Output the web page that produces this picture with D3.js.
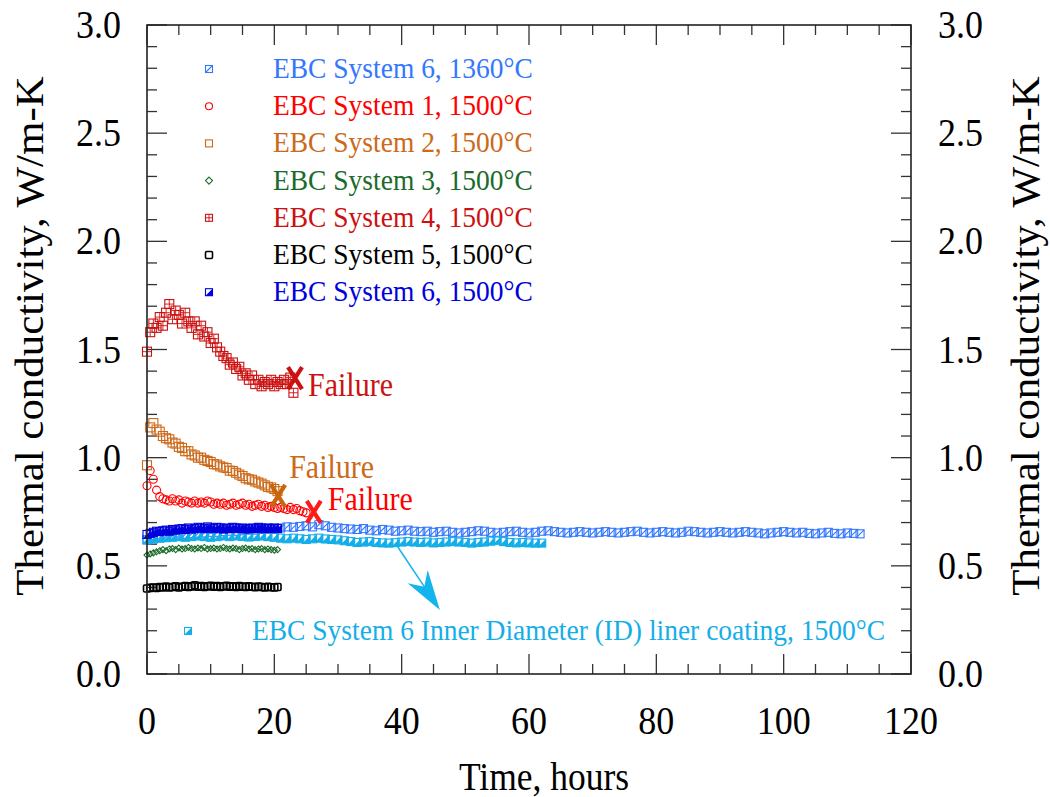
<!DOCTYPE html>
<html>
<head>
<meta charset="utf-8">
<script src="https://cdn.jsdelivr.net/npm/d3@7"></script>
<style>
body { margin: 0; background: #fff; }
svg { display: block; }
text { font-family: "Liberation Serif", "Times New Roman", serif; }
</style>
</head>
<body>
<script>
// axis ticks
var xTicks = [0, 20, 40, 60, 80, 100, 120];
var yTicks = [0.0, 0.5, 1.0, 1.5, 2.0, 2.5, 3.0];

// thermal conductivity readings (W/m-K)
// sampled every 1 h
var sys6_1360 = [0.62, 0.625, 0.63, 0.635, 0.64, 0.64, 0.645, 0.648, 0.65, 0.652,
  0.655, 0.655, 0.658, 0.66, 0.66, 0.662, 0.665, 0.665, 0.668, 0.67,
  0.672, 0.675, 0.68, 0.678, 0.682, 0.685, 0.68, 0.69, 0.685, 0.678,
  0.675, 0.672, 0.67, 0.668, 0.672, 0.665, 0.662, 0.668, 0.665, 0.66,
  0.662, 0.665, 0.66, 0.658, 0.66, 0.655, 0.658, 0.66, 0.655, 0.652,
  0.655, 0.658, 0.662, 0.66, 0.655, 0.652, 0.655, 0.658, 0.66, 0.655,
  0.652, 0.655, 0.66, 0.662, 0.658, 0.655, 0.652, 0.655, 0.658, 0.655,
  0.652, 0.655, 0.658, 0.655, 0.652, 0.655, 0.658, 0.66, 0.655, 0.652,
  0.655, 0.658, 0.655, 0.652, 0.655, 0.66, 0.658, 0.655, 0.652, 0.655,
  0.658, 0.655, 0.652, 0.655, 0.658, 0.655, 0.652, 0.648, 0.652, 0.655,
  0.658, 0.655, 0.652, 0.655, 0.65, 0.648, 0.652, 0.655, 0.65, 0.648,
  0.652, 0.65, 0.648];
// sampled every 1 h
var sys6_id = [0.62, 0.625, 0.628, 0.63, 0.632, 0.635, 0.632, 0.635, 0.638, 0.635,
  0.632, 0.635, 0.638, 0.635, 0.638, 0.636, 0.633, 0.636, 0.638, 0.635,
  0.632, 0.628, 0.625, 0.628, 0.625, 0.622, 0.625, 0.628, 0.624, 0.622,
  0.62, 0.616, 0.612, 0.608, 0.61, 0.612, 0.608, 0.606, 0.605, 0.607,
  0.61, 0.612, 0.61, 0.608, 0.61, 0.606, 0.608, 0.61, 0.612, 0.61,
  0.608, 0.605, 0.608, 0.61, 0.614, 0.618, 0.612, 0.608, 0.606, 0.608,
  0.606, 0.605, 0.605];
// sampled every 0.5 h
var sys1 = [0.87, 0.94, 0.90, 0.85, 0.82, 0.81, 0.805, 0.80, 0.81, 0.80,
  0.805, 0.79, 0.80, 0.795, 0.79, 0.80, 0.79, 0.795, 0.79, 0.80,
  0.795, 0.785, 0.79, 0.785, 0.79, 0.78, 0.785, 0.79, 0.78, 0.785,
  0.79, 0.78, 0.785, 0.775, 0.78, 0.785, 0.775, 0.78, 0.77, 0.775,
  0.77, 0.765, 0.77, 0.765, 0.76, 0.77, 0.76, 0.765, 0.755, 0.75, 0.745];
var sys2 = [0.965, 1.14, 1.16, 1.13, 1.12, 1.10, 1.09, 1.085, 1.07, 1.065,
  1.05, 1.045, 1.03, 1.03, 1.015, 1.01, 1.0, 1.0, 0.99, 0.985,
  0.98, 0.97, 0.968, 0.96, 0.955, 0.952, 0.94, 0.938, 0.93, 0.922,
  0.915, 0.905, 0.90, 0.898, 0.89, 0.885, 0.88, 0.872, 0.865, 0.862,
  0.855, 0.845];
var sys3 = [0.55, 0.555, 0.56, 0.565, 0.57, 0.575, 0.57, 0.578, 0.58, 0.575,
  0.582, 0.578, 0.58, 0.585, 0.58, 0.578, 0.582, 0.58, 0.585, 0.578,
  0.58, 0.582, 0.578, 0.58, 0.585, 0.58, 0.578, 0.582, 0.58, 0.575,
  0.58, 0.582, 0.578, 0.58, 0.575, 0.578, 0.58, 0.575, 0.578, 0.575,
  0.572, 0.575];
var sys4 = [1.49, 1.58, 1.62, 1.60, 1.65, 1.61, 1.67, 1.71, 1.64, 1.68,
  1.66, 1.62, 1.67, 1.63, 1.60, 1.63, 1.57, 1.61, 1.56, 1.58,
  1.53, 1.55, 1.51, 1.49, 1.47, 1.46, 1.43, 1.44, 1.41, 1.42,
  1.38, 1.39, 1.36, 1.38, 1.34, 1.36, 1.33, 1.35, 1.34, 1.36,
  1.33, 1.35, 1.34, 1.36, 1.34, 1.37, 1.30];
var sys5 = [0.395, 0.398, 0.40, 0.398, 0.402, 0.40, 0.404, 0.40, 0.402, 0.405,
  0.40, 0.403, 0.406, 0.402, 0.405, 0.41, 0.404, 0.406, 0.402, 0.405,
  0.408, 0.404, 0.406, 0.402, 0.405, 0.408, 0.403, 0.405, 0.402, 0.406,
  0.404, 0.402, 0.405, 0.403, 0.401, 0.404, 0.402, 0.40, 0.403, 0.401,
  0.40, 0.402];
var sys6_1500 = [0.645, 0.65, 0.655, 0.66, 0.658, 0.662, 0.665, 0.66, 0.668, 0.665,
  0.67, 0.672, 0.668, 0.675, 0.67, 0.672, 0.678, 0.675, 0.672, 0.68,
  0.675, 0.672, 0.678, 0.675, 0.67, 0.675, 0.672, 0.678, 0.675, 0.672,
  0.675, 0.67, 0.672, 0.675, 0.672, 0.678, 0.675, 0.672, 0.675, 0.672,
  0.675, 0.672];

// failure points [hours, W/m-K]
var failSys4 = [23.25, 1.368];
var failSys2 = [20.6, 0.823];
var failSys1 = [26.2, 0.749];
// arrow to the ID liner label [hours, W/m-K]
var arrowFrom = [39.4, 0.587];
var arrowTo = [46.0, 0.296];

var series = [
  {key: "s6a", label: "EBC System 6, 1360°C", vals: sys6_1360, dt: 1, color: "#3377ff", marker: "slash", size: 8},
  {key: "s6id", label: "EBC System 6 Inner Diameter (ID) liner coating, 1500°C", vals: sys6_id, dt: 1, color: "#14aee8", marker: "half", size: 8},
  {key: "s1", label: "EBC System 1, 1500°C", vals: sys1, dt: 0.5, color: "#ff0000", marker: "circle", size: 8},
  {key: "s2", label: "EBC System 2, 1500°C", vals: sys2, dt: 0.5, color: "#cc6a1a", marker: "square", size: 9},
  {key: "s3", label: "EBC System 3, 1500°C", vals: sys3, dt: 0.5, color: "#1a6b2a", marker: "diamond", size: 6},
  {key: "s4", label: "EBC System 4, 1500°C", vals: sys4, dt: 0.5, color: "#cc1111", marker: "cross", size: 9},
  {key: "s5", label: "EBC System 5, 1500°C", vals: sys5, dt: 0.5, color: "#000000", marker: "thick", size: 7},
  {key: "s6b", label: "EBC System 6, 1500°C", vals: sys6_1500, dt: 0.5, color: "#0000dd", marker: "half", size: 8}
];
var legendOrder = ["s6a", "s1", "s2", "s3", "s4", "s5", "s6b"];

var W = 1050, H = 797;
var pLeft = 147, pTop = 25, pRight = 911, pBottom = 674;
var STRETCH = 1.1; // the glyphs in the figure are a bit taller than wide

var x = d3.scaleLinear().domain([0, 120]).range([pLeft, pRight]);
var y = d3.scaleLinear().domain([0, 3]).range([pBottom, pTop]);

var svg = d3.select("body").append("svg")
    .attr("width", W)
    .attr("height", H);

function addText(g, px, py, str, size, color, anchor, rot) {
    return g.append("text")
        .attr("transform", "translate(" + px + "," + py + ") scale(1," + STRETCH + ")" + (rot ? " rotate(-90)" : ""))
        .attr("font-size", size)
        .attr("fill", color)
        .attr("text-anchor", anchor || "start")
        .text(str);
}

function drawMarker(g, type, s, c) {
    var h = s / 2;
    if (type == "circle") {
        g.append("circle").attr("r", h).attr("fill", "none").attr("stroke", c).attr("stroke-width", 1.1);
        return;
    }
    if (type == "diamond") {
        g.append("path").attr("d", "M0," + (-h) + "L" + h + ",0L0," + h + "L" + (-h) + ",0Z")
            .attr("fill", "none").attr("stroke", c).attr("stroke-width", 1.1);
        return;
    }
    if (type == "half") {
        g.append("path").attr("d", "M" + h + "," + (-h) + "L" + h + "," + h + "L" + (-h) + "," + h + "Z")
            .attr("fill", c);
    }
    g.append("rect")
        .attr("x", -h).attr("y", -h).attr("width", s).attr("height", s)
        .attr("rx", type == "thick" ? 1.2 : 0)
        .attr("fill", "none").attr("stroke", c)
        .attr("stroke-width", type == "thick" ? 1.6 : 1.1);
    if (type == "cross") {
        g.append("path").attr("d", "M" + (-h) + ",0L" + h + ",0M0," + (-h) + "L0," + h)
            .attr("stroke", c).attr("stroke-width", 0.9);
    }
    if (type == "slash") {
        g.append("path").attr("d", "M" + (-h) + "," + h + "L" + h + "," + (-h))
            .attr("stroke", c).attr("stroke-width", 1.1);
    }
}

// ticks, inward on all four sides
function ticks(axis, scale, vals, len) {
    var g = svg.append("g").attr("class", "ticks");
    vals.forEach(function(v) {
        var p = scale(v);
        if (axis == "x") {
            g.append("line").attr("x1", p).attr("x2", p).attr("y1", pBottom).attr("y2", pBottom - len);
            g.append("line").attr("x1", p).attr("x2", p).attr("y1", pTop).attr("y2", pTop + len);
        } else {
            g.append("line").attr("y1", p).attr("y2", p).attr("x1", pLeft).attr("x2", pLeft + len);
            g.append("line").attr("y1", p).attr("y2", p).attr("x1", pRight).attr("x2", pRight - len);
        }
    });
    g.selectAll("line").attr("stroke", "#333").attr("stroke-width", 1.3);
}
ticks("x", x, d3.range(0, 121, 5).filter(function(v) { return v % 20 != 0; }), 10);
ticks("x", x, xTicks, 20);
ticks("y", y, d3.range(0, 31, 1).map(function(v) { return v / 10; }).filter(function(v, i) { return i % 5 != 0; }), 10);
ticks("y", y, yTicks, 20);

// data
var plot = svg.append("g").attr("class", "plot");
series.forEach(function(s) {
    plot.append("g")
        .attr("class", "series-" + s.key)
        .selectAll("g")
        .data(s.vals)
        .enter()
        .append("g")
        .attr("transform", function(d, i) { return "translate(" + x(i * s.dt) + "," + y(d) + ")"; })
        .each(function() { drawMarker(d3.select(this), s.marker, s.size, s.color); });
});

// frame
svg.append("rect")
    .attr("x", pLeft).attr("y", pTop)
    .attr("width", pRight - pLeft).attr("height", pBottom - pTop)
    .attr("fill", "none").attr("stroke", "#222").attr("stroke-width", 1.6);

// failure marks
function failX(pt, color) {
    plot.append("path")
        .attr("transform", "translate(" + x(pt[0]) + "," + y(pt[1]) + ")")
        .attr("d", "M-7,-11L7,11M7,-11L-7,11")
        .attr("stroke", color).attr("stroke-width", 4.2).attr("fill", "none");
}
failX(failSys4, "#cc1111");
failX(failSys2, "#c8660e");
failX(failSys1, "#ff1a1a");
addText(svg, x(failSys4[0]) + 13, y(failSys4[1]) + 18, "Failure", 30, "#cc1111");
addText(svg, x(failSys2[0]) + 11, y(failSys2[1]) - 18, "Failure", 30, "#cc6a1a");
addText(svg, x(failSys1[0]) + 14, y(failSys1[1]) - 2, "Failure", 30, "#ff0000");

// arrow
var ax0 = x(arrowFrom[0]), ay0 = y(arrowFrom[1]);
var ax1 = x(arrowTo[0]), ay1 = y(arrowTo[1]);
var alen = Math.sqrt((ax1 - ax0) * (ax1 - ax0) + (ay1 - ay0) * (ay1 - ay0));
var ux = (ax1 - ax0) / alen, uy = (ay1 - ay0) / alen;
svg.append("line")
    .attr("x1", ax0).attr("y1", ay0)
    .attr("x2", ax1 - 26 * ux).attr("y2", ay1 - 26 * uy)
    .attr("stroke", "#14b4ec").attr("stroke-width", 1.5);
var head = [
    [ax1, ay1],
    [ax1 - 40 * ux - 12 * uy, ay1 - 40 * uy + 12 * ux],
    [ax1 - 28 * ux, ay1 - 28 * uy],
    [ax1 - 40 * ux + 12 * uy, ay1 - 40 * uy - 12 * ux]
];
svg.append("path").attr("d", "M" + head.join("L") + "Z").attr("fill", "#14b4ec");

// legend
var leg = svg.append("g").attr("class", "legend");
legendOrder.forEach(function(k, i) {
    var s = series.filter(function(d) { return d.key == k; })[0];
    var cy = 69 + i * 37.2;
    drawMarker(leg.append("g").attr("transform", "translate(209," + cy + ")"), s.marker, 7, s.color);
    addText(leg, 273, cy + 9, s.label, 27.5, s.color);
});
var idS = series[1];
drawMarker(leg.append("g").attr("transform", "translate(188,631)"), idS.marker, 7, idS.color);
addText(leg, 252, 640, idS.label, 27.5, "#14aee8");

// tick labels
var lab = svg.append("g").attr("class", "labels");
yTicks.forEach(function(v) {
    addText(lab, 121, y(v) + 13, v.toFixed(1), 36, "#000", "end");
    addText(lab, 938, y(v) + 13, v.toFixed(1), 36, "#000", "start");
});
xTicks.forEach(function(v) {
    addText(lab, x(v), 734, String(v), 36, "#000", "middle");
});

// axis titles
addText(svg, 544, 790, "Time, hours", 35.5, "#000", "middle");
addText(svg, 43, 336, "Thermal conductivity, W/m-K", 39, "#000", "middle", true);
addText(svg, 1039, 336, "Thermal conductivity, W/m-K", 39, "#000", "middle", true);
</script>
</body>
</html>
